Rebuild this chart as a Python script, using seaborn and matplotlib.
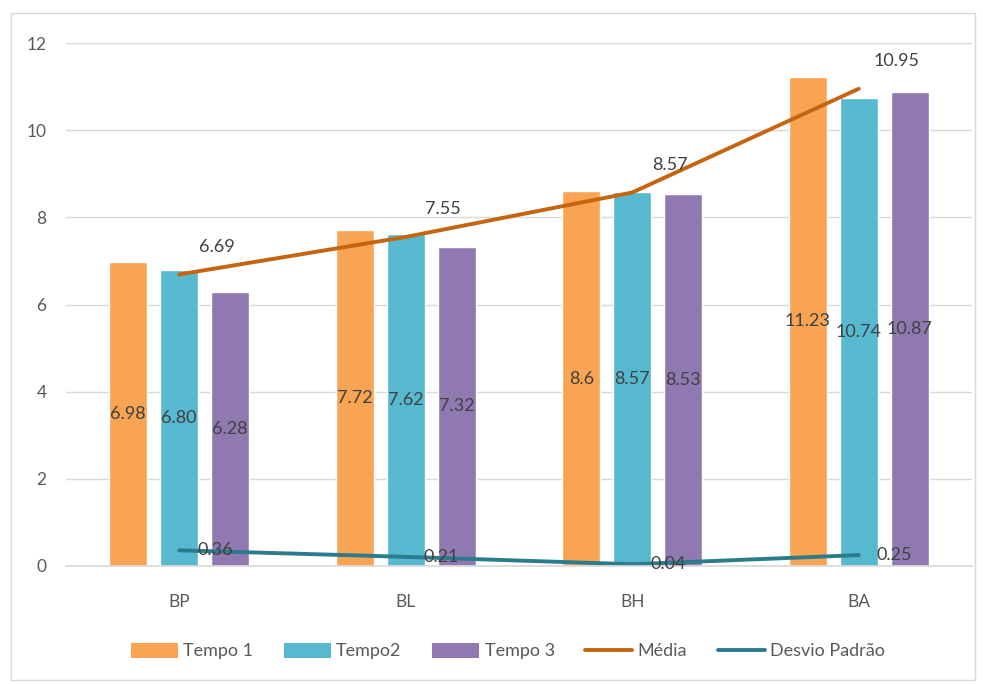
import numpy as np
import pandas as pd
import matplotlib
matplotlib.use("Agg")
import matplotlib.pyplot as plt
from matplotlib.patches import Rectangle, Patch
from matplotlib.lines import Line2D
import seaborn as sns

categories = ["BP", "BL", "BH", "BA"]
tempo1 = [6.98, 7.72, 8.6, 11.23]
tempo2 = [6.80, 7.62, 8.57, 10.74]
tempo3 = [6.28, 7.32, 8.53, 10.87]
media = [6.69, 7.55, 8.57, 10.95]
desvio = [0.36, 0.21, 0.04, 0.25]
tempo1_lbl = ["6.98", "7.72", "8.6", "11.23"]
tempo2_lbl = ["6.80", "7.62", "8.57", "10.74"]
tempo3_lbl = ["6.28", "7.32", "8.53", "10.87"]
media_lbl = ["6.69", "7.55", "8.57", "10.95"]
desvio_lbl = ["0.36", "0.21", "0.04", "0.25"]
series_names = ["Tempo 1", "Tempo2", "Tempo 3"]

colors = ["#F8A453", "#56B9D0", "#9079B1"]
c_media = "#C5650F"
c_desvio = "#2A7B8B"
txt = "#404040"

sns.set_theme(style="white")
plt.rcParams["font.family"] = ["Lato", "DejaVu Sans"]

df = pd.DataFrame({
    "cat": categories * 3,
    "val": tempo1 + tempo2 + tempo3,
    "serie": [s for s in series_names for _ in categories],
})

fig = plt.figure(figsize=(9.83, 6.84), dpi=100)
ax = fig.add_axes([66 / 983, 1 - 566 / 684, (972 - 66) / 983, (566 - 43) / 684])

sns.barplot(data=df, x="cat", y="val", hue="serie", order=categories,
            hue_order=series_names, palette=colors, width=0.675, gap=0.25,
            saturation=1, ax=ax, legend=False, errorbar=None)

xs = np.arange(len(categories))
sns.lineplot(x=xs, y=media, color=c_media, linewidth=2.8, ax=ax, legend=False)
sns.lineplot(x=xs, y=desvio, color=c_desvio, linewidth=2.8, ax=ax, legend=False)

ax.set_xlim(-0.5, 3.5)
ax.set_ylim(0, 12)
ax.set_yticks(np.arange(0, 13, 2))
ax.set_xlabel("")
ax.set_ylabel("")
ax.grid(axis="y", color="#D9D9D9", linewidth=1)
ax.set_axisbelow(True)
for s in ["top", "right", "left"]:
    ax.spines[s].set_visible(False)
ax.spines["bottom"].set_color("#D9D9D9")
ax.tick_params(axis="both", length=0, labelsize=12.5, colors="#595959")
ax.tick_params(axis="y", pad=14)
ax.tick_params(axis="x", pad=20)

# bar labels (centered)
for cont, labels in zip(ax.containers, [tempo1_lbl, tempo2_lbl, tempo3_lbl]):
    ax.bar_label(cont, labels=labels, label_type="center", color=txt, fontsize=13)

for x, y, l in zip(xs, media, media_lbl):
    ax.annotate(l, (x, y), xytext=(27, 20), textcoords="offset points",
                ha="center", va="center", color=txt, fontsize=13)
for x, y, l in zip(xs, desvio, desvio_lbl):
    ax.annotate(l, (x, y), xytext=(13, 0), textcoords="offset points",
                ha="left", va="center", color=txt, fontsize=13)

handles = [Patch(facecolor=c, edgecolor="none") for c in colors] + [
    Line2D([0], [0], color=c_media, linewidth=2.8),
    Line2D([0], [0], color=c_desvio, linewidth=2.8),
]
labels = series_names + ["Média", "Desvio Padrão"]
leg = fig.legend(handles, labels, loc="center", bbox_to_anchor=(508 / 983, 1 - 651 / 684),
                 ncol=5, frameon=False, fontsize=13, handlelength=2.6, handleheight=0.9,
                 handletextpad=0.3, columnspacing=1.7)
for t in leg.get_texts():
    t.set_color("#595959")

fig.patches.append(Rectangle((11 / 983, 1 - 680 / 684), (975 - 11) / 983, (680 - 13) / 684,
                             transform=fig.transFigure, fill=False,
                             edgecolor="#D9D9D9", linewidth=1))

fig.savefig("out.png", dpi=100)
